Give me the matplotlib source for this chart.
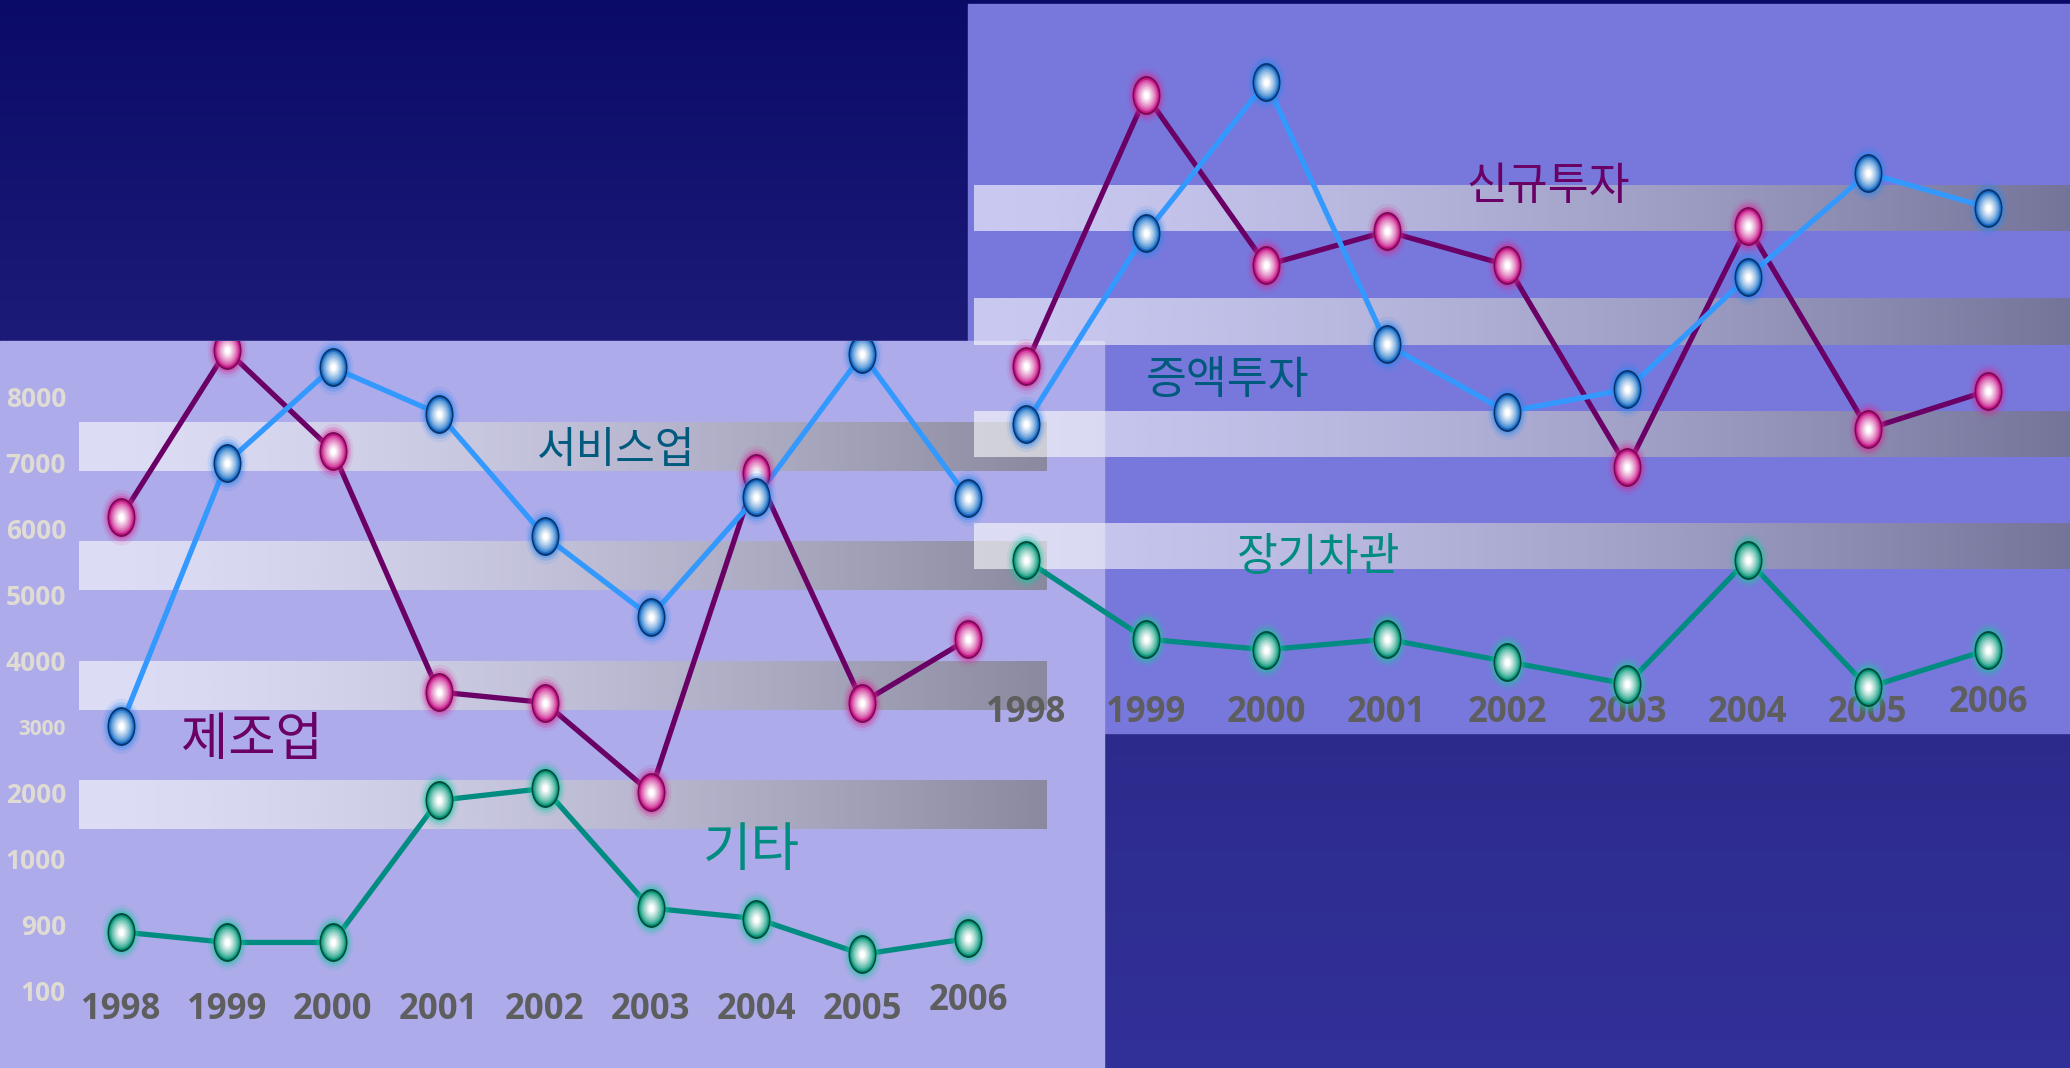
import numpy as np
import matplotlib
matplotlib.use('Agg')
import matplotlib.pyplot as plt
from matplotlib.colors import to_rgb
from matplotlib.path import Path
from matplotlib.patches import Rectangle

W, H = 2070, 1068

years = [1998, 1999, 2000, 2001, 2002, 2003, 2004, 2005, 2006]
y_labels = ["100", "900", "1000", "2000", "3000", "4000", "5000", "6000", "7000", "8000"]

# left chart (values in tick-slot units: 0 = "100", 9 = "8000")
manufacturing = [7.21, 9.74, 8.22, 4.57, 4.41, 3.05, 7.88, 4.41, 5.37]   # 제조업
service = [4.05, 8.04, 9.48, 8.78, 6.93, 5.71, 7.52, 9.68, 7.50]         # 서비스업
other = [0.94, 0.78, 0.78, 2.93, 3.11, 1.30, 1.14, 0.60, 0.84]           # 기타

# right chart (same unit size, no axis shown)
new_invest = [5.56, 9.65, 7.08, 7.59, 7.08, 4.02, 7.67, 4.60, 5.18]      # 신규투자
increase_invest = [4.68, 7.57, 9.85, 5.88, 4.86, 5.20, 6.90, 8.47, 7.95] # 증액투자
long_loan = [2.62, 1.42, 1.26, 1.42, 1.08, 0.74, 2.62, 0.69, 1.26]       # 장기차관

PURPLE, BLUE, TEAL, NAVY = "#6a0066", "#3399ff", "#008c80", "#005a7d"
KR = ["Noto Sans CJK KR", "DejaVu Sans"]

fig = plt.figure(figsize=(W / 100, H / 100), dpi=100)


def px_axes(x0, y0, x1, y1):
	return fig.add_axes([x0 / W, 1 - y1 / H, (x1 - x0) / W, (y1 - y0) / H])


# ---- background layer in pixel coords
bg = fig.add_axes([0, 0, 1, 1])
bg.set_axis_off()
rows = np.linspace(0, H, 256)
stops = [0, 340, 750, H]
grad = np.stack([np.interp(rows, stops, [0.043, 0.11, 0.176, 0.196]),
	np.interp(rows, stops, [0.04, 0.106, 0.17, 0.19]),
	np.interp(rows, stops, [0.41, 0.47, 0.55, 0.60])], axis=-1)[:, None, :]
bg.imshow(grad, extent=(0, W, H, 0), aspect="auto", zorder=0)
bg.add_patch(Rectangle((968, 4), W - 968, 729, color="#7878dc", zorder=1))
bg.add_patch(Rectangle((0, 341), 1104, H - 341, color="#adabea", zorder=2))


def band(x0, x1, y0, y1):
	s = np.linspace(0, 1, 256) ** 1.5
	rgba = np.zeros((1, 256, 4))
	rgba[..., 0] = 1 - s * 0.55
	rgba[..., 1] = 1 - s * 0.55
	rgba[..., 2] = 1 - s * 0.57
	rgba[..., 3] = 0.6
	bg.imshow(rgba, extent=(x0, x1, y1, y0), aspect="auto", interpolation="bilinear", zorder=3)


for y0, y1 in [(422, 471), (541, 590), (661, 710), (780, 829)]:
	band(79, 1047, y0, y1)
for y0, y1 in [(185, 231), (298, 345), (411, 457), (523, 569)]:
	band(974, W, y0, y1)

bg.text(616, 451, "서비스업", family=KR, fontsize=31, color=NAVY, ha="center", va="center", zorder=5)
bg.text(252, 740, "제조업", family=KR, fontsize=37, color=PURPLE, ha="center", va="center", zorder=5)
bg.text(751, 850, "기타", family=KR, fontsize=38, color=TEAL, ha="center", va="center", zorder=5)
bg.text(1548, 186, "신규투자", family=KR, fontsize=32, color=PURPLE, ha="center", va="center", zorder=5)
bg.text(1228, 380, "증액투자", family=KR, fontsize=32, color=NAVY, ha="center", va="center", zorder=5)
bg.text(1319, 557, "장기차관", family=KR, fontsize=32, color=TEAL, ha="center", va="center", zorder=5)
bg.set_xlim(0, W)
bg.set_ylim(H, 0)

# ---- glossy elliptic markers
circ = Path.unit_circle()
ELL = Path(circ.vertices * [0.72, 1.0], circ.codes)
STYLE = {
	"pink": ("#d82898", "#7a0a55", "#c8188a"),
	"blue": ("#2a88f0", "#0a3470", "#1a70c8"),
	"green": ("#18c8a0", "#004c3c", "#0c9a7c"),
}


def gloss_layers(style):
	glow, rim, mid = STYLE[style]
	layers = [(40, glow, 0.10), (35, glow, 0.22), (31, glow, 0.35), (28, rim, 1.0)]
	c0, c1 = np.array(to_rgb(mid)), np.ones(3)
	for k, ms in enumerate(np.linspace(25, 5, 9)):
		f = (k / 8) ** 0.75
		layers.append((ms, tuple(c0 + f * (c1 - c0)), 1.0))
	return layers


def draw_chart(ax, series):
	for vals, color, _ in series:
		ax.plot(years, vals, color=color, lw=3.8, solid_capstyle="round", zorder=2)
	z = 3
	for vals, _, style in series:
		for ms, c, a in gloss_layers(style):
			ax.plot(years, vals, ls="none", marker=ELL, ms=ms, mfc=c, mec="none", alpha=a, zorder=z)
			z += 0.01


year_font = dict(family="Open Sans", fontsize=25, fontweight="bold", color="#5e5e5e", ha="center", va="center")

# ---- left chart
ax1 = px_axes(0, 341, 1104, 1068)
ax1.set_axis_off()
ax1.set_xlim(1996.86, 2007.28)
ax1.set_ylim(-1.12, 9.88)
draw_chart(ax1, [(manufacturing, PURPLE, "pink"), (service, BLUE, "blue"), (other, TEAL, "green")])
for i, lbl in enumerate(y_labels):
	ax1.text(0.0598, i, lbl, transform=ax1.get_yaxis_transform(), family="Open Sans",
		fontsize=15 if lbl == "3000" else 19, fontweight="bold", color="#e0dcd4", ha="right", va="center")
for yr in years:
	ax1.text(yr, -0.1 if yr == 2006 else -0.24, str(yr), **year_font)

# ---- right chart
ax2 = px_axes(968, 4, W, 733)
ax2.set_axis_off()
ax2.set_xlim(1997.52, 2006.68)
ax2.set_ylim(0, 11.03)
draw_chart(ax2, [(new_invest, PURPLE, "pink"), (increase_invest, BLUE, "blue"), (long_loan, TEAL, "green")])
for yr in years:
	ax2.text(yr, 0.45 if yr == 2006 else 0.30, str(yr), **year_font)

fig.savefig("out.png", dpi=100)
